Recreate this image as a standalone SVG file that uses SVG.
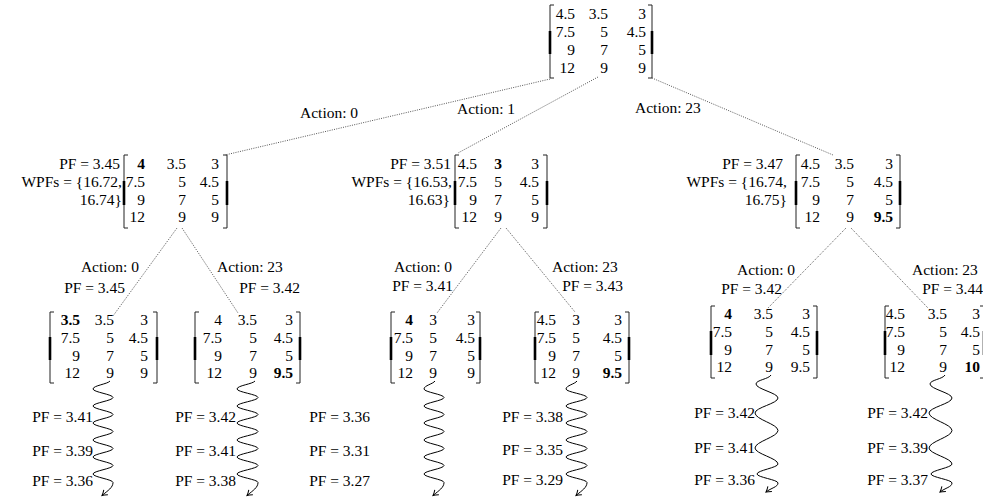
<svg xmlns="http://www.w3.org/2000/svg" width="983" height="499" viewBox="0 0 983 499">
<style>
text{font-family:"Liberation Serif","Times New Roman",serif;font-size:15.5px;fill:#000}
.m text{text-anchor:end}
.e{text-anchor:end}
.b{font-weight:bold}
.br{fill:none;stroke:#222;stroke-width:1}
.bk{stroke:#000;stroke-width:2.6}
.dot{fill:none;stroke:#555;stroke-width:1;stroke-dasharray:1 1.3}
.sq{fill:none;stroke:#000;stroke-width:1;marker-end:url(#ah)}
</style>
<defs>
<marker id="ah" markerUnits="userSpaceOnUse" markerWidth="10" markerHeight="10" viewBox="-6 -5 8 10" refX="0" refY="0" orient="auto"><path d="M-5,-3.2 Q-2,-0.8 0,0 Q-2,0.8 -5,3.2" fill="none" stroke="#000" stroke-width="1"/></marker>
</defs>
<rect width="983" height="499" fill="#fff"/>

<g id="connectors">
<path class="dot" d="M550,79L225,155M598,77L458,153M652,78L833,155"/>
<path class="dot" d="M177,228L113,316M182,228L238,313M501,228L437,313M506,228L575,312M846,228L768,308M851,228L928,308"/>
<path class="sq" d="M110,381c-2,3 -17,4.5 -17,8c0,3.1 20,5.4 20,8.5c0,3.1 -20,5.4 -20,8.5c0,3.1 20,5.4 20,8.5c0,3.1 -20,5.4 -20,8.5c0,3.1 20,5.4 20,8.5c0,3.1 -20,5.4 -20,8.5c0,3.1 20,5.4 20,8.5c0,3.1 -20,5.4 -20,8.5c0,3.1 20,5.4 20,8.5c0,3.1 -20,5.4 -20,8.5c0,3.1 20,5.4 20,8.5c0,5 -5,8 -11,13"/>
<path class="sq" d="M255,381c-2,3 -18,4.5 -18,8c0,3.1 21,5.4 21,8.5c0,3.1 -21,5.4 -21,8.5c0,3.1 21,5.4 21,8.5c0,3.1 -21,5.4 -21,8.5c0,3.1 21,5.4 21,8.5c0,3.1 -21,5.4 -21,8.5c0,3.1 21,5.4 21,8.5c0,3.1 -21,5.4 -21,8.5c0,3.1 21,5.4 21,8.5c0,3.1 -21,5.4 -21,8.5c0,3.1 21,5.4 21,8.5c0,5 -5,8 -11,13"/>
<path class="sq" d="M435,381c-2,3 -11,4.5 -11,8c0,3.1 20,5.4 20,8.5c0,3.1 -20,5.4 -20,8.5c0,3.1 20,5.4 20,8.5c0,3.1 -20,5.4 -20,8.5c0,3.1 20,5.4 20,8.5c0,3.1 -20,5.4 -20,8.5c0,3.1 20,5.4 20,8.5c0,3.1 -20,5.4 -20,8.5c0,3.1 20,5.4 20,8.5c0,3.1 -20,5.4 -20,8.5c0,3.1 20,5.4 20,8.5c0,5 -5,8 -11,13"/>
<path class="sq" d="M577,381c-2,3 -11,4.5 -11,8c0,3.1 21,5.4 21,8.5c0,3.1 -21,5.4 -21,8.5c0,3.1 21,5.4 21,8.5c0,3.1 -21,5.4 -21,8.5c0,3.1 21,5.4 21,8.5c0,3.1 -21,5.4 -21,8.5c0,3.1 21,5.4 21,8.5c0,3.1 -21,5.4 -21,8.5c0,3.1 21,5.4 21,8.5c0,3.1 -21,5.4 -21,8.5c0,3.1 21,5.4 21,8.5c0,5 -5,8 -11,13"/>
<path class="sq" d="M771,375C769,379 756,380 756,384C756,389 778,393 778,398C778,403.5 755,407.5 755,413C755,419.4 778,424.1 778,430.5C778,436.9 755,441.6 755,448C755,453.8 778,458.2 778,464C778,467.6 757,470.4 757,474C757,477.3 778,479.7 778,483C778,487 771,488 766,492"/>
<path class="sq" d="M945,375C943,379 930,380 930,384C930,389 952,393 952,398C952,403.5 929,407.5 929,413C929,419.4 952,424.1 952,430.5C952,436.9 929,441.6 929,448C929,453.8 952,458.2 952,464C952,467.6 931,470.4 931,474C931,477.3 952,479.7 952,483C952,487 945,488 940,492"/>
<text x="300" y="118">Action: 0</text>
<text x="457" y="114">Action: 1</text>
<text x="635" y="113">Action: 23</text>
<text class="e" x="139" y="272">Action: 0</text>
<text x="217" y="272">Action: 23</text>
<text x="394" y="272">Action: 0</text>
<text x="552" y="272">Action: 23</text>
<text x="737" y="275">Action: 0</text>
<text x="912" y="275">Action: 23</text>
</g>

<g id="n0" class="m">
<path class="br" d="M554,5H550V78H554M648,5H652V78H648"/>
<path class="bk" d="M550,31V54M652,31V54"/>
<text x="575" y="19">4.5</text><text x="608" y="19">3.5</text><text x="646" y="19">3</text>
<text x="575" y="37">7.5</text><text x="608" y="37">5</text><text x="646" y="37">4.5</text>
<text x="575" y="55">9</text><text x="608" y="55">7</text><text x="646" y="55">5</text>
<text x="575" y="73">12</text><text x="608" y="73">9</text><text x="646" y="73">9</text>
</g>

<g id="n1" class="m">
<text x="120" y="169">PF = 3.45</text>
<text x="122" y="187">WPFs = {16.72,</text>
<text x="122" y="205">16.74}</text>
<path class="br" d="M128,155H124V228H128M223,155H227V228H223"/>
<path class="bk" d="M124,181V205M227,181V205"/>
<text class="b" x="145" y="169">4</text><text x="186" y="169">3.5</text><text x="219" y="169">3</text>
<text x="145" y="187">7.5</text><text x="186" y="187">5</text><text x="219" y="187">4.5</text>
<text x="145" y="205">9</text><text x="186" y="205">7</text><text x="219" y="205">5</text>
<text x="145" y="222">12</text><text x="186" y="222">9</text><text x="219" y="222">9</text>
</g>

<g id="n2" class="m">
<text x="451" y="169">PF = 3.51</text>
<text x="452" y="187">WPFs = {16.53,</text>
<text x="450" y="205">16.63}</text>
<path class="br" d="M459,155H455V228H459M543,155H547V228H543"/>
<path class="bk" d="M455,181V205M547,181V205"/>
<text x="477" y="169">4.5</text><text class="b" x="502" y="169">3</text><text x="539" y="169">3</text>
<text x="477" y="187">7.5</text><text x="502" y="187">5</text><text x="539" y="187">4.5</text>
<text x="477" y="205">9</text><text x="502" y="205">7</text><text x="539" y="205">5</text>
<text x="477" y="222">12</text><text x="502" y="222">9</text><text x="539" y="222">9</text>
</g>

<g id="n3" class="m">
<text x="783" y="169">PF = 3.47</text>
<text x="787" y="187">WPFs = {16.74,</text>
<text x="787" y="205">16.75}</text>
<path class="br" d="M800,155H796V228H800M896,155H900V228H896"/>
<path class="bk" d="M796,181V205M900,181V205"/>
<text x="820" y="169">4.5</text><text x="854" y="169">3.5</text><text x="893" y="169">3</text>
<text x="820" y="187">7.5</text><text x="854" y="187">5</text><text x="893" y="187">4.5</text>
<text x="820" y="205">9</text><text x="854" y="205">7</text><text x="893" y="205">5</text>
<text x="820" y="222">12</text><text x="854" y="222">9</text><text class="b" x="893" y="222">9.5</text>
</g>

<g id="n11" class="m">
<text x="125" y="293">PF = 3.45</text>
<path class="br" d="M54,312H50V383H54M153,312H157V383H153"/>
<path class="bk" d="M50,337V360M157,337V360"/>
<text class="b" x="80" y="325">3.5</text><text x="114" y="325">3.5</text><text x="148" y="325">3</text>
<text x="80" y="343">7.5</text><text x="114" y="343">5</text><text x="148" y="343">4.5</text>
<text x="80" y="361">9</text><text x="114" y="361">7</text><text x="148" y="361">5</text>
<text x="80" y="378">12</text><text x="114" y="378">9</text><text x="148" y="378">9</text>
<text x="93" y="422">PF = 3.41</text>
<text x="93" y="456">PF = 3.39</text>
<text x="93" y="486">PF = 3.36</text>
</g>

<g id="n12" class="m">
<text x="300" y="293">PF = 3.42</text>
<path class="br" d="M199,312H195V383H199M296,312H300V383H296"/>
<path class="bk" d="M195,337V360M300,337V360"/>
<text x="222" y="325">4</text><text x="257" y="325">3.5</text><text x="293" y="325">3</text>
<text x="222" y="343">7.5</text><text x="257" y="343">5</text><text x="293" y="343">4.5</text>
<text x="222" y="361">9</text><text x="257" y="361">7</text><text x="293" y="361">5</text>
<text x="222" y="378">12</text><text x="257" y="378">9</text><text class="b" x="293" y="378">9.5</text>
<text x="236" y="422">PF = 3.42</text>
<text x="236" y="456">PF = 3.41</text>
<text x="236" y="486">PF = 3.38</text>
<text x="370" y="422">PF = 3.36</text>
<text x="370" y="456">PF = 3.31</text>
<text x="370" y="486">PF = 3.27</text>
</g>

<g id="n21" class="m">
<text x="453" y="291">PF = 3.41</text>
<path class="br" d="M395,312H391V383H395M476,312H480V383H476"/>
<path class="bk" d="M391,337V360M480,337V360"/>
<text class="b" x="413" y="325">4</text><text x="437" y="325">3</text><text x="475" y="325">3</text>
<text x="413" y="343">7.5</text><text x="437" y="343">5</text><text x="475" y="343">4.5</text>
<text x="413" y="361">9</text><text x="437" y="361">7</text><text x="475" y="361">5</text>
<text x="413" y="378">12</text><text x="437" y="378">9</text><text x="475" y="378">9</text>
</g>

<g id="n22" class="m">
<text x="623" y="291">PF = 3.43</text>
<path class="br" d="M539,312H535V383H539M625,312H629V383H625"/>
<path class="bk" d="M535,337V360M629,337V360"/>
<text x="556" y="325">4.5</text><text x="580" y="325">3</text><text x="622" y="325">3</text>
<text x="556" y="343">7.5</text><text x="580" y="343">5</text><text x="622" y="343">4.5</text>
<text x="556" y="361">9</text><text x="580" y="361">7</text><text x="622" y="361">5</text>
<text x="556" y="378">12</text><text x="580" y="378">9</text><text class="b" x="622" y="378">9.5</text>
<text x="563" y="422">PF = 3.38</text>
<text x="563" y="455">PF = 3.35</text>
<text x="563" y="485">PF = 3.29</text>
</g>

<g id="n31" class="m">
<text x="782" y="294">PF = 3.42</text>
<path class="br" d="M715,306H711V378H715M813,306H817V378H813"/>
<path class="bk" d="M711,331V355M817,331V355"/>
<text class="b" x="732" y="319">4</text><text x="773" y="319">3.5</text><text x="810" y="319">3</text>
<text x="732" y="337">7.5</text><text x="773" y="337">5</text><text x="810" y="337">4.5</text>
<text x="732" y="355">9</text><text x="773" y="355">7</text><text x="810" y="355">5</text>
<text x="732" y="372">12</text><text x="773" y="372">9</text><text x="810" y="372">9.5</text>
<text x="755" y="418">PF = 3.42</text>
<text x="755" y="453">PF = 3.41</text>
<text x="755" y="485">PF = 3.36</text>
</g>

<g id="n32" class="m">
<text x="983" y="294">PF = 3.44</text>
<path class="br" d="M889,306H885V378H889M980,306H984V378H980"/>
<path class="bk" d="M885,331V355M984,331V355"/>
<text x="905" y="319">4.5</text><text x="947" y="319">3.5</text><text x="980" y="319">3</text>
<text x="905" y="337">7.5</text><text x="947" y="337">5</text><text x="980" y="337">4.5</text>
<text x="905" y="355">9</text><text x="947" y="355">7</text><text x="980" y="355">5</text>
<text x="905" y="372">12</text><text x="947" y="372">9</text><text class="b" x="980" y="372">10</text>
<text x="928" y="418">PF = 3.42</text>
<text x="928" y="453">PF = 3.39</text>
<text x="928" y="485">PF = 3.37</text>
</g>
</svg>
